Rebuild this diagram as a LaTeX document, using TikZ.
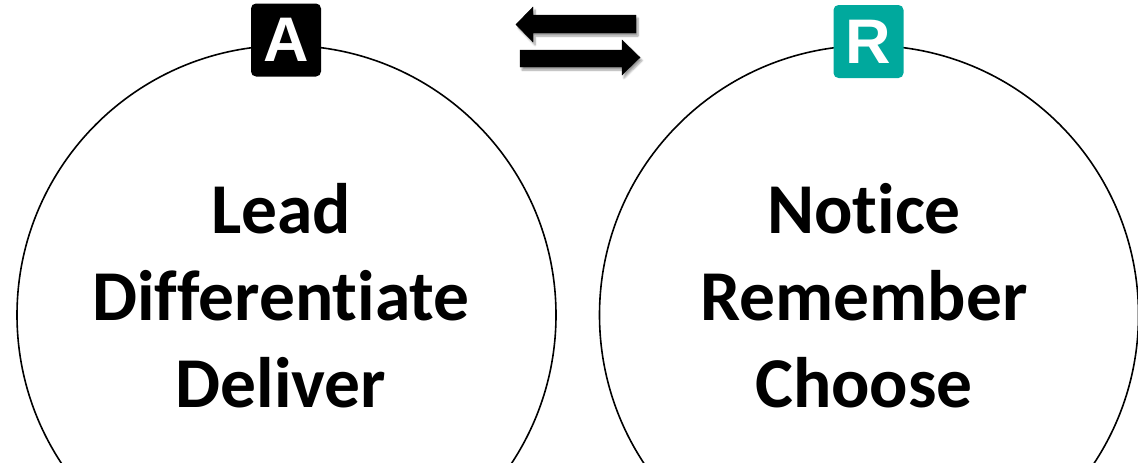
\documentclass[tikz,border=0pt]{standalone}
\usepackage{fontspec}
\setmainfont{Carlito}[Ligatures=NoCommon]
\newfontfamily\badgefont{Liberation Sans}
\usetikzlibrary{shadows.blur}
\definecolor{rteal}{RGB}{0,169,157}

\begin{document}
\begin{tikzpicture}[x=1pt,y=-1pt,
    ring/.style={circle,draw,line width=1.6pt,minimum size=539pt,inner sep=0pt},
    badge/.style={rounded corners=5pt,minimum width=70pt,minimum height=73pt,inner sep=0pt,
      text=white,font=\badgefont\bfseries\fontsize{63}{63}\selectfont},
    words/.style={align=center,font=\bfseries\fontsize{71.5}{87}\selectfont},
    swap/.style={fill=black,blur shadow={shadow xshift=2pt,shadow yshift=-3pt,shadow blur steps=6}}]
  \clip (0,0) rectangle (1138,463);
  \useasboundingbox (0,0) rectangle (1138,463);
  % A
  \node[ring] (ca) at (286.5,315) {};
  \node[badge,fill=black] (ba) at (286,40) {A};
  \node[words] (ta) at (281,296) {Lead\\Differentiate\\Deliver};
  % R
  \node[ring] (cr) at (869,315) {};
  \node[badge,fill=rteal] (br) at (868.5,41.5) {R};
  \node[words] (tr) at (864,296) {Notice\\Remember\\Choose};
  % arrows
  \draw[swap] (516,24.5) -- (533,7) -- (533,15) -- (636,15) -- (636,33)
    -- (533,33) -- (533,42) -- cycle;
  \draw[swap] (640,57.5) -- (622,40) -- (622,50) -- (520,50) -- (520,67)
    -- (622,67) -- (622,75) -- cycle;
\end{tikzpicture}
\end{document}
